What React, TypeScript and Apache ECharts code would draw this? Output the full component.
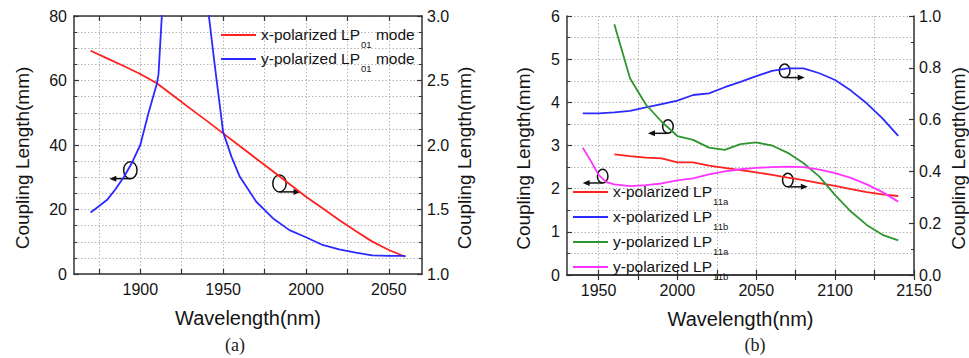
import React, { useEffect, useRef } from 'react';
import * as echarts from 'echarts';

// ---------- Panel (a) data ----------
const wlA_xpol = [1870, 1880, 1890, 1900, 1910, 1920, 1930, 1940, 1950, 1960, 1970, 1980, 1990, 2000, 2010, 2020, 2030, 2040, 2050, 2060];
const lenA_xpol = [2.731, 2.672, 2.612, 2.55, 2.478, 2.382, 2.284, 2.189, 2.09, 1.992, 1.894, 1.796, 1.698, 1.599, 1.509, 1.419, 1.333, 1.251, 1.186, 1.134];
const wlA_ypol = [1870, 1875, 1880, 1885, 1890, 1895, 1900, 1905, 1910, 1911, 1915, 1940, 1945, 1950, 1955, 1960, 1970, 1980, 1990, 2000, 2010, 2020, 2030, 2040, 2050, 2060];
const lenA_ypol = [19.1, 21, 23, 26.3, 30, 34.5, 40, 50, 59, 62, 98, 86, 64.5, 44, 36.4, 30.2, 22.4, 17.3, 13.6, 11.4, 9.0, 7.6, 6.6, 5.8, 5.6, 5.6];
const xTicksA = [1875, 1900, 1925, 1950, 1975, 2000, 2025, 2050];
const xLabelsA = [1900, 1950, 2000, 2050];

// ---------- Panel (b) data ----------
const wlB_xa = [1960, 1970, 1980, 1990, 2000, 2010, 2020, 2030, 2040, 2050, 2060, 2070, 2080, 2090, 2100, 2110, 2120, 2130, 2140];
const lenB_xa = [0.466, 0.459, 0.453, 0.45, 0.435, 0.435, 0.422, 0.414, 0.405, 0.396, 0.387, 0.376, 0.366, 0.355, 0.344, 0.332, 0.32, 0.311, 0.305];
const wlB_xb = [1940, 1950, 1960, 1970, 1980, 1990, 2000, 2010, 2020, 2030, 2040, 2050, 2060, 2070, 2080, 2090, 2100, 2110, 2120, 2130, 2140];
const lenB_xb = [0.624, 0.624, 0.628, 0.634, 0.647, 0.66, 0.673, 0.695, 0.701, 0.725, 0.746, 0.768, 0.788, 0.798, 0.798, 0.779, 0.753, 0.712, 0.663, 0.605, 0.537];
const wlB_ya = [1960, 1970, 1980, 1990, 2000, 2010, 2020, 2030, 2040, 2050, 2060, 2070, 2080, 2090, 2100, 2110, 2120, 2130, 2140];
const lenB_ya = [5.81, 4.55, 3.95, 3.55, 3.22, 3.13, 2.95, 2.9, 3.03, 3.07, 3.0, 2.83, 2.59, 2.28, 1.85, 1.47, 1.16, 0.93, 0.8];
const wlB_yb = [1940, 1945, 1950, 1955, 1960, 1970, 1980, 1990, 2000, 2010, 2020, 2030, 2040, 2050, 2060, 2070, 2080, 2090, 2100, 2110, 2120, 2130, 2140];
const lenB_yb = [2.95, 2.65, 2.32, 2.15, 2.1, 2.06, 2.08, 2.12, 2.19, 2.24, 2.33, 2.4, 2.45, 2.48, 2.5, 2.51, 2.5, 2.44, 2.36, 2.25, 2.1, 1.92, 1.7];
const xTicksB = [1950, 1975, 2000, 2025, 2050, 2075, 2100, 2125, 2150];
const xLabelsB = [1950, 2000, 2050, 2100, 2150];

// annotation markers (data coords on the left axis of each panel)
const annA = [
  { x: 1894, y: 32.2, dir: -1 },
  { x: 1984, y: 28.1, dir: 1 },
];
const annB = [
  { x: 2068, y: 4.73, dir: 1 },
  { x: 1994, y: 3.44, dir: -1 },
  { x: 1952.6, y: 2.29, dir: -1 },
  { x: 2070, y: 2.2, dir: 1 },
];

const FONT = '"Liberation Sans", Arial, sans-serif';
const TXT = '#141414';
const AX = '#333';
const GRIDC = '#b4b4b4';

const legendLabels: Record<string, string> = {
  'x-polarized LP01 mode': '{n|x-polarized LP}{s|01}{n| mode}',
  'y-polarized LP01 mode': '{n|y-polarized LP}{s|01}{n| mode}',
  'x-polarized LP11a': '{n|x-polarized LP}{s|11a}',
  'x-polarized LP11b': '{n|x-polarized LP}{s|11b}',
  'y-polarized LP11a': '{n|y-polarized LP}{s|11a}',
  'y-polarized LP11b': '{n|y-polarized LP}{s|11b}',
};

const richStyle = {
  n: { fontSize: 15.5, lineHeight: 18, verticalAlign: 'top', color: TXT, fontFamily: FONT },
  s: { fontSize: 9.5, lineHeight: 10, padding: [13, 0, 0, 1], verticalAlign: 'top', color: TXT, fontFamily: FONT },
};

const zip = (a: number[], b: number[]) => a.map((v, i) => [v, b[i]]);

function xAxisBottom(grid: number, min: number, max: number, ticks: number[], labels: number[]) {
  return {
    type: 'value', gridIndex: grid, position: 'bottom', min, max,
    axisLine: { show: true, lineStyle: { color: AX, width: 1.5 } },
    axisTick: { show: true, inside: true, length: 5, customValues: ticks, lineStyle: { color: AX, width: 1.2 } },
    axisLabel: { customValues: labels, color: TXT, fontSize: 16, margin: 7, fontFamily: FONT, formatter: (v: number) => String(v) },
    splitLine: { show: true, lineStyle: { type: [1.5, 2], color: GRIDC, width: 1 } },
    name: 'Wavelength(nm)', nameLocation: 'middle', nameGap: 34,
    nameTextStyle: { fontSize: 20, color: TXT, fontFamily: FONT },
  };
}
function xAxisTop(grid: number, min: number, max: number, ticks: number[]) {
  return {
    type: 'value', gridIndex: grid, position: 'top', min, max,
    axisLine: { show: true, lineStyle: { color: AX, width: 1.5 } },
    axisTick: { show: true, inside: true, length: 5, customValues: ticks, lineStyle: { color: AX, width: 1.2 } },
    axisLabel: { show: false },
    splitLine: { show: false },
  };
}
function yAxis(grid: number, pos: string, min: number, max: number, interval: number, minorSplit: number, decimals: number, nameGap: number, grid_lines: boolean) {
  return {
    type: 'value', gridIndex: grid, position: pos, min, max, interval,
    axisLine: { show: true, lineStyle: { color: AX, width: 1.5 } },
    axisTick: { show: true, inside: true, length: 5, lineStyle: { color: AX, width: 1.2 } },
    minorTick: { show: true, splitNumber: minorSplit, length: 3, lineStyle: { color: AX, width: 1 } },
    axisLabel: { color: TXT, fontSize: 16, margin: pos === 'left' ? 7 : 5, fontFamily: FONT, formatter: (v: number) => v.toFixed(decimals) },
    splitLine: { show: grid_lines, lineStyle: { type: [1.5, 2], color: GRIDC, width: 1 } },
    minorSplitLine: { show: grid_lines, lineStyle: { type: [1.5, 2], color: GRIDC, width: 1 } },
    name: 'Coupling Length(mm)', nameLocation: 'middle', nameGap,
    nameTextStyle: { fontSize: 19, color: TXT, fontFamily: FONT, padding: [0, 26, 0, 0] },
  };
}

function lineSeries(name: string, xi: number, yi: number, data: number[][], color: string) {
  return {
    type: 'line', name, xAxisIndex: xi, yAxisIndex: yi, data,
    showSymbol: false, symbol: 'none', smooth: false, clip: true,
    lineStyle: { color, width: 1.8 }, itemStyle: { color },
  };
}

function legendOf(left: number, top: number, names: string[], gap: number) {
  return {
    left, top, orient: 'vertical', padding: 0, itemGap: gap, itemWidth: 35, itemHeight: 2,
    icon: 'rect', data: names,
    formatter: (n: string) => legendLabels[n] || n,
    textStyle: { color: TXT, fontFamily: FONT, fontSize: 15.5, rich: richStyle },
  };
}

export default function App() {
  const ref = useRef<HTMLDivElement>(null);
  useEffect(() => {
    const chart = echarts.init(ref.current!, null, { renderer: 'svg' });
    const option: any = {
      animation: false,
      backgroundColor: '#fff',
      textStyle: { fontFamily: FONT },
      grid: [
        { left: 74, top: 16, width: 348, height: 258 },
        { left: 567, top: 16, width: 348, height: 259 },
      ],
      xAxis: [
        xAxisBottom(0, 1860, 2070, xTicksA, xLabelsA),
        xAxisTop(0, 1860, 2070, xTicksA),
        xAxisBottom(1, 1930, 2150, xTicksB, xLabelsB),
        xAxisTop(1, 1930, 2150, xTicksB),
      ],
      yAxis: [
        yAxis(0, 'left', 0, 80, 20, 4, 0, 42, true),
        yAxis(0, 'right', 1, 3, 0.5, 4, 1, 33, false),
        yAxis(1, 'left', 0, 6, 1, 2, 0, 34, true),
        yAxis(1, 'right', 0, 1, 0.2, 2, 1, 35, false),
      ],
      legend: [
        legendOf(221, 26, ['x-polarized LP01 mode', 'y-polarized LP01 mode'], 1),
        legendOf(573, 183, ['x-polarized LP11a', 'x-polarized LP11b', 'y-polarized LP11a', 'y-polarized LP11b'], 2),
      ],
      series: [
        lineSeries('x-polarized LP01 mode', 0, 1, zip(wlA_xpol, lenA_xpol), '#ff2020'),
        lineSeries('y-polarized LP01 mode', 0, 0, zip(wlA_ypol, lenA_ypol), '#2b2bff'),
        lineSeries('x-polarized LP11a', 2, 3, zip(wlB_xa, lenB_xa), '#ff2020'),
        lineSeries('x-polarized LP11b', 2, 3, zip(wlB_xb, lenB_xb), '#2b2bff'),
        lineSeries('y-polarized LP11a', 2, 2, zip(wlB_ya, lenB_ya), '#2f962f'),
        lineSeries('y-polarized LP11b', 2, 2, zip(wlB_yb, lenB_yb), '#ff33ff'),
      ],
    };
    chart.setOption(option);

    const elems: any[] = [];
    const addAnn = (list: { x: number; y: number; dir: number }[], xi: number, yi: number, rx: number, ry: number, len: number) => {
      list.forEach((a) => {
        const p = chart.convertToPixel({ xAxisIndex: xi, yAxisIndex: yi } as any, [a.x, a.y]) as number[];
        const cx = p[0], cy = p[1];
        const ay = cy + ry;
        const ex = cx + a.dir * len;
        elems.push({ type: 'ellipse', shape: { cx, cy, rx, ry }, style: { fill: 'none', stroke: '#111', lineWidth: 1.5 } });
        elems.push({ type: 'line', shape: { x1: cx, y1: ay, x2: ex - a.dir * 5, y2: ay }, style: { stroke: '#111', lineWidth: 1.5 } });
        elems.push({ type: 'polygon', shape: { points: [[ex, ay], [ex - a.dir * 7, ay - 3], [ex - a.dir * 7, ay + 3]] }, style: { fill: '#111' } });
      });
    };
    addAnn(annA, 0, 0, 6.7, 8.5, 21);
    addAnn(annB, 2, 2, 5.3, 6.8, 20);
    elems.push({ type: 'text', x: 235, y: 345, style: { text: '(a)', fontSize: 18, fontFamily: '"Liberation Serif", "Times New Roman", serif', fill: '#222', align: 'center', verticalAlign: 'middle' } });
    elems.push({ type: 'text', x: 755, y: 345, style: { text: '(b)', fontSize: 18, fontFamily: '"Liberation Serif", "Times New Roman", serif', fill: '#222', align: 'center', verticalAlign: 'middle' } });
    chart.setOption({ graphic: elems });

    return () => chart.dispose();
  }, []);
  return <div ref={ref} style={{ position: 'absolute', left: 0, top: 0, width: 969, height: 358 }} />;
}
